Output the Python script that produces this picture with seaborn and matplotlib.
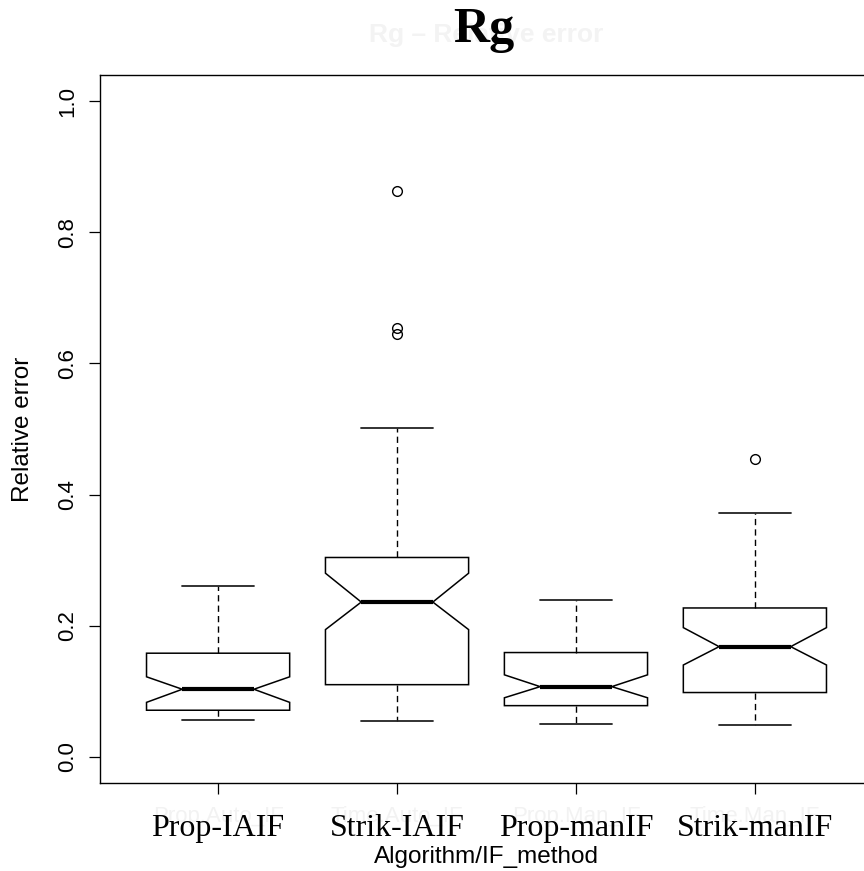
import matplotlib
matplotlib.use("Agg")
import matplotlib.pyplot as plt
import seaborn as sns
from matplotlib.transforms import blended_transform_factory

# Summary statistics of the relative error of Rg per algorithm / IF method
methods = ["Prop-IAIF", "Strik-IAIF", "Prop-manIF", "Strik-manIF"]
raw_names = ["Prop.Auto_IF", "Time.Auto_IF", "Prop.Man_IF", "Time.Man_IF"]
whisker_low = [0.056, 0.055, 0.050, 0.048]
q1 = [0.071, 0.110, 0.078, 0.098]
median = [0.103, 0.236, 0.107, 0.168]
q3 = [0.158, 0.304, 0.159, 0.227]
whisker_high = [0.261, 0.502, 0.239, 0.372]
notch_low = [0.083, 0.194, 0.090, 0.140]
notch_high = [0.122, 0.280, 0.125, 0.197]
outliers = [[], [0.645, 0.654, 0.863], [], [0.454]]
y_ticks = [0.0, 0.2, 0.4, 0.6, 0.8, 1.0]

sns.set_theme(style="white")
plt.rcParams["font.family"] = ["Liberation Sans", "DejaVu Sans"]
plt.rcParams.update({"text.color": "black", "axes.labelcolor": "black",
                     "xtick.color": "black", "ytick.color": "black"})

W, H = 864, 871
fig = plt.figure(figsize=(W / 100, H / 100), dpi=100)
fig.patch.set_facecolor("white")
ax = fig.add_axes([100 / W, 1 - 783 / H, 773 / W, 708 / H])
ax.set_facecolor("white")

stats = []
for i, name in enumerate(methods):
    stats.append(dict(label=name, med=median[i], q1=q1[i], q3=q3[i],
                      whislo=whisker_low[i], whishi=whisker_high[i],
                      cilo=notch_low[i], cihi=notch_high[i],
                      fliers=outliers[i]))

positions = list(range(len(methods)))
ax.bxp(stats, positions=positions, widths=0.8, shownotches=True, patch_artist=True,
       manage_ticks=False,
       boxprops=dict(facecolor="white", edgecolor="black", linewidth=1.1),
       medianprops=dict(color="black", linewidth=3.0, solid_capstyle="butt"),
       whiskerprops=dict(color="black", linewidth=1.0, linestyle=(0, (4.5, 3))),
       capprops=dict(color="#222222", linewidth=1.3),
       flierprops=dict(marker="o", markerfacecolor="none", markeredgecolor="black",
                       markersize=7, markeredgewidth=1.0))

ax.set_xlim(-0.66, 3.66)
ax.set_ylim(-0.04, 1.04)

for s in ax.spines.values():
    s.set_visible(True)
    s.set_color("black")
    s.set_linewidth(1.0)

ax.set_xticks(positions)
ax.set_xticklabels(methods, family="Liberation Serif", fontsize=23, color="black")
ax.set_yticks(y_ticks)
ax.set_yticklabels([f"{v:.1f}" for v in y_ticks], fontsize=16, rotation=90,
                   va="center", color="black")
ax.tick_params(axis="both", direction="out", length=8, width=0.9, color="black",
               bottom=True, left=True)
ax.tick_params(axis="x", pad=14)
ax.tick_params(axis="y", pad=8)

# faint original factor names under the axis
trans = blended_transform_factory(ax.transData, fig.transFigure)
for p, nm in zip(positions, raw_names):
    ax.text(p, 1 - 822 / H, nm, transform=trans, ha="center", va="baseline",
            fontsize=16, color="#f2f2f2", zorder=0, clip_on=False)

ax.set_xlabel("Algorithm/IF_method", fontsize=17.5, va="baseline", color="black")
ax.xaxis.set_label_coords(0.5, (783 - 863) / 708)
ax.set_ylabel("Relative error", fontsize=17.5, ha="center", va="center", color="black")
ax.yaxis.set_label_coords((23 - 100) / 773, 0.5)

cx = 486.5 / W
fig.text(cx, 1 - 42 / H, "Rg – Relative error", ha="center", va="baseline",
         fontsize=19, fontweight="bold", color="#f3f3f3")
fig.text(cx - 3 / W, 1 - 42 / H, "Rg", ha="center", va="baseline",
         fontsize=36, fontweight="bold", family="Liberation Serif", color="black")

fig.savefig("out.png", dpi=100)
